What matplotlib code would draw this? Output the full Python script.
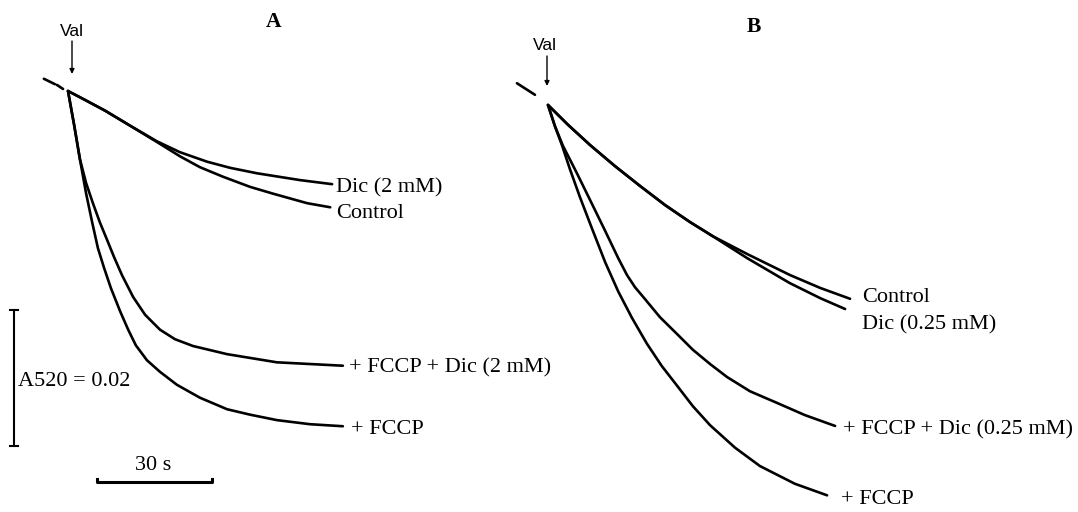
import matplotlib
matplotlib.use("Agg")
import matplotlib.pyplot as plt

# ---------------- data (time in s after valinomycin, dA520 in units of 0.001) -------------
# Panel A
A_fccp_t = [0, 1.6, 3.1, 4.7, 6.3, 7.8, 9.4, 11.2, 13.6, 15.7, 17.7, 20.6, 24.0, 28.4, 34.4, 41.5, 47.5, 54.5, 63.1, 71.7]
A_fccp_a = [0, -5.0, -10.0, -15.0, -19.3, -23.1, -26.0, -29.0, -32.4, -35.1, -37.4, -39.6, -41.3, -43.2, -45.1, -46.8, -47.6, -48.4, -49.0, -49.3]

A_fccpdic_t = [0, 1.6, 3.1, 4.7, 6.5, 8.3, 10.2, 12.0, 14.1, 17.0, 20.1, 24.0, 27.9, 32.6, 41.5, 54.5, 71.7]
A_fccpdic_a = [0, -5.0, -10.0, -13.5, -16.5, -19.3, -21.9, -24.4, -27.1, -30.3, -32.9, -35.1, -36.5, -37.5, -38.7, -39.9, -40.4]

A_dic_t = [0, 4.4, 9.7, 16.2, 23.2, 29.2, 36.3, 42.3, 49.3, 60.5, 68.9]
A_dic_a = [0, -1.3, -2.9, -5.1, -7.4, -9.0, -10.4, -11.3, -12.1, -13.1, -13.7]

A_ctrl_t = [0, 4.4, 9.7, 16.2, 23.2, 29.2, 34.4, 40.4, 47.5, 53.5, 62.4, 68.4]
A_ctrl_a = [0, -1.3, -2.9, -5.1, -7.5, -9.6, -11.2, -12.6, -14.1, -15.1, -16.5, -17.1]

A_pre_t = [[-6.3, -3.4], [-2.9, -1.3]]
A_pre_a = [[1.8, 1.0], [0.9, 0.3]]

# Panel B
B_ctrl_t = [0, 5.2, 11.0, 17.5, 24.0, 30.5, 37.0, 43.0, 51.9, 63.1, 71.0, 78.8]
B_ctrl_a = [0, -2.9, -5.9, -9.0, -11.9, -14.7, -17.2, -19.3, -21.9, -25.0, -26.9, -28.5]

B_dic_t = [0, 5.2, 11.0, 17.5, 24.0, 30.5, 37.0, 43.0, 51.9, 63.1, 71.0, 77.5]
B_dic_a = [0, -2.9, -5.9, -9.0, -11.9, -14.7, -17.2, -19.3, -22.5, -26.2, -28.4, -30.0]

B_fccp_t = [0, 1.8, 3.7, 5.7, 8.3, 11.5, 14.9, 18.3, 21.9, 25.8, 29.7, 33.7, 37.8, 42.3, 48.8, 55.3, 64.4, 72.8]
B_fccp_a = [0, -3.1, -6.0, -9.4, -13.5, -18.2, -23.1, -27.4, -31.3, -35.1, -38.4, -41.3, -44.3, -47.1, -50.4, -53.1, -55.7, -57.4]

B_fccpdic_t = [0, 1.8, 3.9, 7.6, 11.0, 14.9, 18.3, 20.6, 22.7, 24.8, 29.2, 33.7, 37.8, 42.3, 46.7, 52.7, 59.7, 67.0, 74.9]
B_fccpdic_a = [0, -3.1, -6.0, -10.1, -14.0, -18.5, -22.5, -25.0, -26.8, -28.2, -31.2, -33.7, -36.0, -38.1, -40.0, -42.1, -43.8, -45.6, -47.2]

B_pre_t = [-8.1, -3.4]
B_pre_a = [3.2, 1.5]

# scale bars
bar_time = 30       # s
bar_abs = 20        # 0.001 units -> 0.02

A_labels = ["Dic (2 mM)", "Control", "+ FCCP + Dic (2 mM)", "+ FCCP"]
B_labels = ["Control", "Dic (0.25 mM)", "+ FCCP + Dic (0.25 mM)", "+ FCCP"]

# ---------------- layout ----------------
W, H = 1078, 512
PX_PER_S = 115 / 30.0
PX_PER_U = 136 / 20.0

fig = plt.figure(figsize=(W / 100, H / 100), dpi=100)
base = fig.add_axes([0, 0, 1, 1])
base.set_xlim(0, W)
base.set_ylim(H, 0)
base.axis("off")


def panel_axes(x0, y0):
    ax = fig.add_axes([0, 0, 1, 1], facecolor="none")
    ax.set_xlim(-x0 / PX_PER_S, (W - x0) / PX_PER_S)
    ax.set_ylim(-(H - y0) / PX_PER_U, y0 / PX_PER_U)
    ax.axis("off")
    return ax


axA = panel_axes(68, 91)
axB = panel_axes(548, 105)

LW = 1.9
kw = dict(color="black", lw=LW, solid_capstyle="round", solid_joinstyle="round")

for t, a in [(A_fccp_t, A_fccp_a), (A_fccpdic_t, A_fccpdic_a),
             (A_dic_t, A_dic_a), (A_ctrl_t, A_ctrl_a)]:
    axA.plot(t, a, **kw)
for t, a in zip(A_pre_t, A_pre_a):
    axA.plot(t, a, **kw)

for t, a in [(B_fccp_t, B_fccp_a), (B_fccpdic_t, B_fccpdic_a),
             (B_dic_t, B_dic_a), (B_ctrl_t, B_ctrl_a)]:
    axB.plot(t, a, **kw)
axB.plot(B_pre_t, B_pre_a, **kw)

# scale bars (panel A data units)
vb_t = (14 - 68) / PX_PER_S
vb_top = -(310 - 91) / PX_PER_U
axA.plot([vb_t, vb_t], [vb_top, vb_top - bar_abs], color="black", lw=1.5)
cap = 4 / PX_PER_S
for yv in (vb_top, vb_top - bar_abs):
    axA.plot([vb_t - cap, vb_t + cap], [yv, yv], color="black", lw=1.5)

hb_t0 = (97 - 68) / PX_PER_S
hb_a = -(482 - 91) / PX_PER_U
tick = 3 / PX_PER_U
axA.plot([hb_t0, hb_t0, hb_t0 + bar_time, hb_t0 + bar_time],
         [hb_a + tick, hb_a, hb_a, hb_a + tick], color="black", lw=2.2,
         solid_joinstyle="round")

# ---------------- text ----------------
serif = ["Liberation Serif", "DejaVu Serif"]
fs = 16
tk = dict(family=serif, fontsize=fs, va="center", ha="left", color="black")

base.text(274, 22, "A", family=serif, fontsize=15.5, fontweight="bold", ha="center", va="center")
base.text(754, 27, "B", family=serif, fontsize=15.5, fontweight="bold", ha="center", va="center")

base.text(336, 188, A_labels[0], **tk)
base.text(336, 214, A_labels[1], **tk)
base.text(349, 368, A_labels[2], **tk)
base.text(351, 429, A_labels[3], **tk)

base.text(862, 297, B_labels[0], **tk)
base.text(862, 325, B_labels[1], **tk)
base.text(843, 430, B_labels[2], **tk)
base.text(841, 499, B_labels[3], **tk)

base.text(18, 381, "A520 = 0.02", **tk)
base.text(153, 465, "30 s", family=serif, fontsize=fs, ha="center", va="center")

sans = ["Liberation Sans", "DejaVu Sans"]
base.text(72, 32, "Val", family=sans, fontsize=12.5, ha="center", va="center")
base.text(545, 45, "Val", family=sans, fontsize=12.5, ha="center", va="center")
for x, y1, y2 in [(72, 41, 74), (547, 56, 86)]:
    base.annotate("", xy=(x, y2), xytext=(x, y1),
                  arrowprops=dict(arrowstyle="-|>", lw=1.0, color="black",
                                  mutation_scale=7, shrinkA=0, shrinkB=0))

fig.savefig("out.png", dpi=100)
